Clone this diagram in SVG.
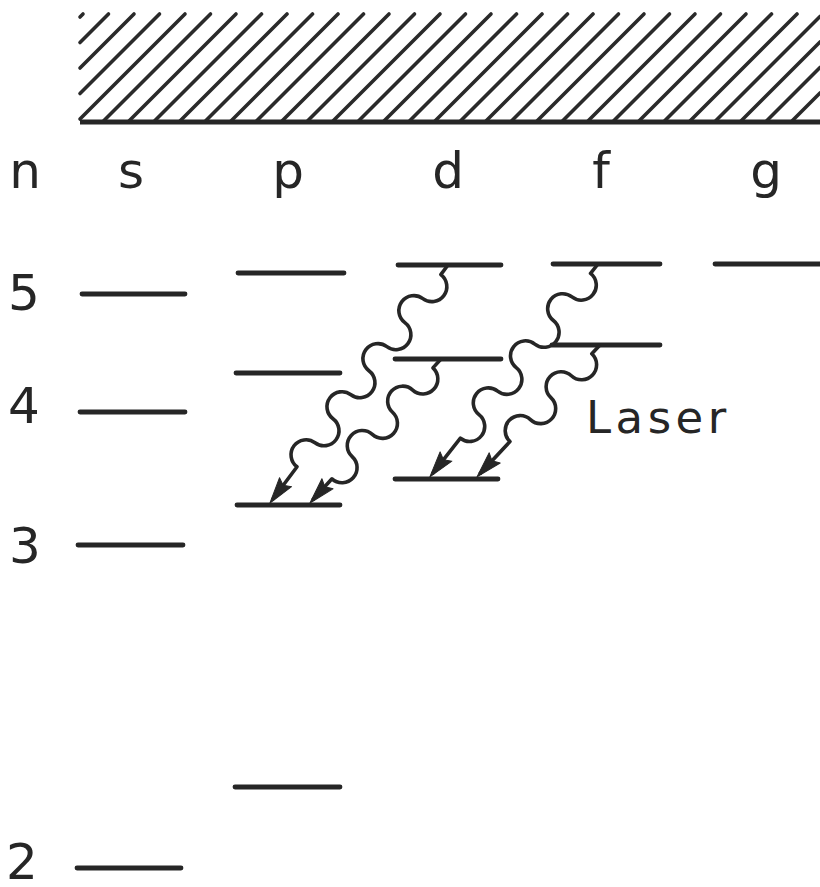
<svg xmlns="http://www.w3.org/2000/svg" width="820" height="887" viewBox="0 0 820 887">
<style>
.lv{stroke:#262626;stroke-width:4.8;stroke-linecap:round;fill:none}
.ht{stroke:#2a2a2a;stroke-width:3.6;stroke-linecap:round;fill:none}
.wv{stroke:#262626;stroke-width:3.6;fill:none;stroke-linejoin:round;marker-end:url(#ah)}
.lb{font-family:"DejaVu Sans","Liberation Sans",sans-serif;font-size:50px;fill:#262626;text-anchor:middle}
.ls{font-family:"DejaVu Sans","Liberation Sans",sans-serif;font-size:45px;fill:#262626;letter-spacing:4.5px}
</style>
<defs>
<marker id="ah" markerUnits="userSpaceOnUse" markerWidth="34" markerHeight="22" viewBox="-28 -11 34 22" refX="0" refY="0" orient="auto">
<path d="M4,0 L-22,-7.5 L-18,0 L-22,7.5 Z" fill="#262626" stroke="#262626" stroke-width="1" stroke-linejoin="round"/>
</marker>
</defs>
<rect width="820" height="887" fill="#fff"/>
<g id="hatch">
<g class="ht">
<line x1="80" y1="17" x2="83" y2="14"/>
<line x1="80" y1="42.5" x2="108.5" y2="14"/>
<line x1="80" y1="68" x2="134" y2="14"/>
<line x1="80" y1="93.5" x2="159.5" y2="14"/>
<line x1="80" y1="119" x2="185" y2="14"/>
<line x1="103.5" y1="121" x2="210.5" y2="14"/>
<line x1="129" y1="121" x2="236" y2="14"/>
<line x1="154.5" y1="121" x2="261.5" y2="14"/>
<line x1="180" y1="121" x2="287" y2="14"/>
<line x1="205.5" y1="121" x2="312.5" y2="14"/>
<line x1="231" y1="121" x2="338" y2="14"/>
<line x1="256.5" y1="121" x2="363.5" y2="14"/>
<line x1="282" y1="121" x2="389" y2="14"/>
<line x1="307.5" y1="121" x2="414.5" y2="14"/>
<line x1="333" y1="121" x2="440" y2="14"/>
<line x1="358.5" y1="121" x2="465.5" y2="14"/>
<line x1="384" y1="121" x2="491" y2="14"/>
<line x1="409.5" y1="121" x2="516.5" y2="14"/>
<line x1="435" y1="121" x2="542" y2="14"/>
<line x1="460.5" y1="121" x2="567.5" y2="14"/>
<line x1="486" y1="121" x2="593" y2="14"/>
<line x1="511.5" y1="121" x2="618.5" y2="14"/>
<line x1="537" y1="121" x2="644" y2="14"/>
<line x1="562.5" y1="121" x2="669.5" y2="14"/>
<line x1="588" y1="121" x2="695" y2="14"/>
<line x1="613.5" y1="121" x2="720.5" y2="14"/>
<line x1="639" y1="121" x2="746" y2="14"/>
<line x1="664.5" y1="121" x2="771.5" y2="14"/>
<line x1="690" y1="121" x2="797" y2="14"/>
<line x1="715.5" y1="121" x2="820" y2="16.5"/>
<line x1="741" y1="121" x2="820" y2="42"/>
<line x1="766.5" y1="121" x2="820" y2="67.5"/>
<line x1="792" y1="121" x2="820" y2="93"/>
</g>
<line x1="80" y1="122" x2="820" y2="122" stroke="#262626" stroke-width="4.8"/>
</g>
<g id="labels">
<text class="lb" x="25" y="188">n</text>
<text class="lb" x="131" y="188">s</text>
<text class="lb" x="288" y="188">p</text>
<text class="lb" x="448" y="188">d</text>
<text class="lb" x="601" y="188">f</text>
<text class="lb" x="766" y="188">g</text>
<text class="lb" x="24" y="310">5</text>
<text class="lb" x="24" y="423">4</text>
<text class="lb" x="25" y="563">3</text>
<text class="lb" x="22" y="879">2</text>
</g>
<g id="s-levels" class="lv">
<line x1="82" y1="294" x2="185" y2="294"/>
<line x1="80" y1="412" x2="185" y2="412"/>
<line x1="78" y1="545" x2="183" y2="545"/>
<line x1="77" y1="868" x2="181" y2="868"/>
</g>
<g id="p-levels" class="lv">
<line x1="238" y1="273" x2="344" y2="273"/>
<line x1="236" y1="373" x2="340" y2="373"/>
<line x1="237" y1="505" x2="340" y2="505"/>
<line x1="235" y1="787" x2="340" y2="787"/>
</g>
<g id="d-levels" class="lv">
<line x1="398" y1="265" x2="501" y2="265"/>
<line x1="395" y1="359" x2="501" y2="359"/>
<line x1="395" y1="479" x2="498" y2="479"/>
</g>
<g id="f-levels" class="lv">
<line x1="553" y1="264" x2="660" y2="264"/>
<line x1="552" y1="345" x2="660" y2="345"/>
</g>
<g id="g-levels" class="lv">
<line x1="715" y1="264" x2="820" y2="264"/>
</g>
<g id="connectors">
<path class="wv" transform="translate(448,265) rotate(126.8)" d="M0,0 L12,0 a15,15 0 0 1 30,0 a15,15 0 0 0 30,0 a15,15 0 0 1 30,0 a15,15 0 0 0 30,0 a15,15 0 0 1 30,0 a15,15 0 0 0 30,0 a15,15 0 0 1 30,0 a15,15 0 0 0 30,0 L293.2,0"/>
<path class="wv" transform="translate(441,359) rotate(132.3)" d="M0,0 L12,0 a15,15 0 0 1 30,0 a15,15 0 0 0 30,0 a15,15 0 0 1 30,0 a15,15 0 0 0 30,0 a15,15 0 0 1 30,0 L190.7,0"/>
<path class="wv" transform="translate(598,264) rotate(128.3)" d="M0,0 L12,0 a15,15 0 0 1 30,0 a15,15 0 0 0 30,0 a15,15 0 0 1 30,0 a15,15 0 0 0 30,0 a15,15 0 0 1 30,0 a15,15 0 0 0 30,0 a15,15 0 0 1 30,0 L267.3,0"/>
<path class="wv" transform="translate(600,345) rotate(133)" d="M0,0 L12,0 a15,15 0 0 1 30,0 a15,15 0 0 0 30,0 a15,15 0 0 1 30,0 a15,15 0 0 0 30,0 L176.4,0"/>
</g>
<g id="laser-label">
<text class="ls" x="586" y="433">Laser</text>
</g>
</svg>
